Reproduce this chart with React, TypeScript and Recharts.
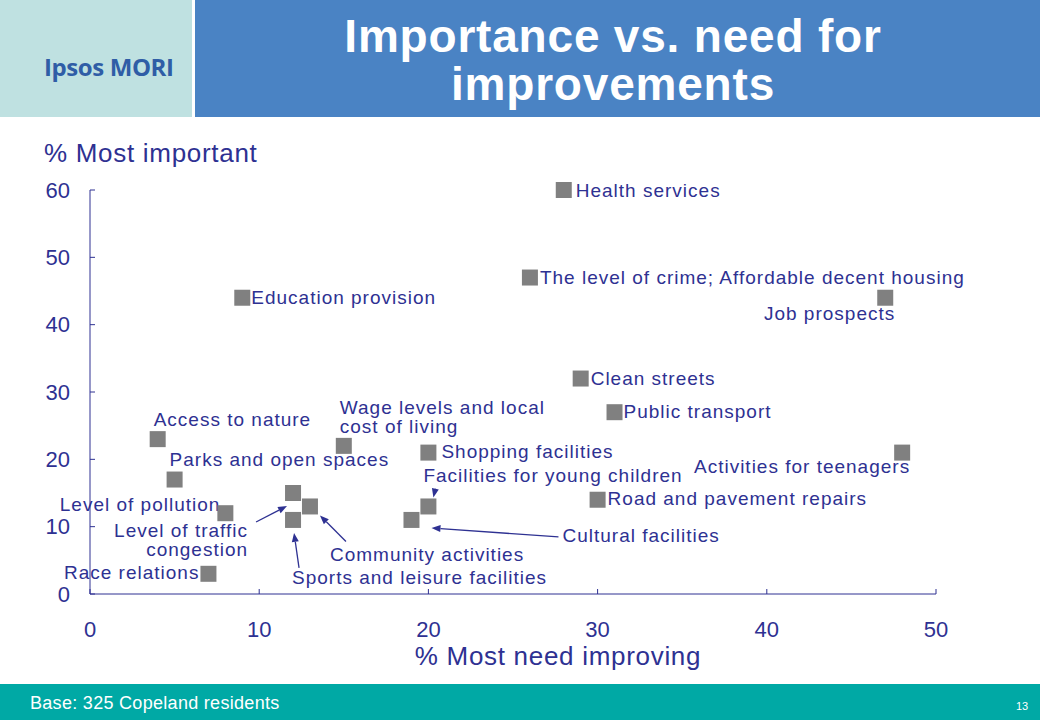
import React from 'react';
import { ScatterChart, Scatter, XAxis, YAxis } from 'recharts';

// ---- Data ----
const services = [
  'Health services',
  'The level of crime; Affordable decent housing',
  'Education provision',
  'Job prospects',
  'Clean streets',
  'Public transport',
  'Access to nature',
  'Wage levels and local\ncost of living',
  'Shopping facilities',
  'Activities for teenagers',
  'Parks and open spaces',
  'Road and pavement repairs',
  'Level of pollution',
  'Level of traffic\ncongestion',
  'Community activities',
  'Facilities for young children',
  'Sports and leisure facilities',
  'Cultural facilities',
  'Race relations',
];
const needImproving = [28, 26, 9, 47, 29, 31, 4, 15, 20, 48, 5, 30, 8, 12, 13, 20, 12, 19, 7];
const mostImportant = [60, 47, 44, 44, 32, 27, 23, 22, 21, 21, 17, 14, 12, 15, 13, 13, 11, 11, 3];
const xTicks = [0, 10, 20, 30, 40, 50];
const yTicks = [0, 10, 20, 30, 40, 50, 60];

// ---- Label placement (pixel offsets relative to each point) ----
type Place = { anchor: 'start' | 'end'; dx: number; dy: number; arrow?: [number, number, number, number] };
const placements: Place[] = [
  { anchor: 'start', dx: 12, dy: 0 },
  { anchor: 'start', dx: 10, dy: 0 },
  { anchor: 'start', dx: 9, dy: 0 },
  { anchor: 'end', dx: 10, dy: 16 },
  { anchor: 'start', dx: 10, dy: 0 },
  { anchor: 'start', dx: 9, dy: -1 },
  { anchor: 'start', dx: -4, dy: -20 },
  { anchor: 'start', dx: -4, dy: -38 },
  { anchor: 'start', dx: 13, dy: -1 },
  { anchor: 'end', dx: 8, dy: 14 },
  { anchor: 'start', dx: -5, dy: -20 },
  { anchor: 'start', dx: 10, dy: -1 },
  { anchor: 'end', dx: -5, dy: -9 },
  { anchor: 'end', dx: -45, dy: 37, arrow: [-37, 29, -6, 13] },
  { anchor: 'start', dx: 20, dy: 48, arrow: [36, 35, 10, 9] },
  { anchor: 'start', dx: -5, dy: -31, arrow: [7, -18, 5, -9] },
  { anchor: 'start', dx: -1, dy: 58, arrow: [6, 48, 1, 13] },
  { anchor: 'start', dx: 151, dy: 16, arrow: [147, 17, 20, 8] },
  { anchor: 'end', dx: -9, dy: -1 },
];

const data = services.map((name, i) => ({ name, x: needImproving[i], y: mostImportant[i], idx: i }));

const NAVY = '#2E3192';
const FONT = '"Liberation Sans", Arial, sans-serif';

const Arrow = ({ x1, y1, x2, y2 }: { x1: number; y1: number; x2: number; y2: number }) => {
  const ang = Math.atan2(y2 - y1, x2 - x1);
  const len = 9;
  const hw = 3.5;
  const bx = x2 - len * Math.cos(ang);
  const by = y2 - len * Math.sin(ang);
  const px = -Math.sin(ang) * hw;
  const py = Math.cos(ang) * hw;
  return (
    <g>
      <line x1={x1} y1={y1} x2={bx} y2={by} stroke={NAVY} strokeWidth={1.3} />
      <polygon points={`${x2},${y2} ${bx + px},${by + py} ${bx - px},${by - py}`} fill={NAVY} />
    </g>
  );
};

const LabelShape = (props: any) => {
  const { cx, cy, payload } = props;
  if (cx == null || cy == null) return null;
  const p = placements[payload.idx];
  const lines = String(payload.name).split('\n');
  return (
    <g>
      {lines.map((ln, k) => (
        <text
          key={k}
          x={cx + p.dx}
          y={cy + p.dy + k * 19}
          textAnchor={p.anchor}
          dominantBaseline="central"
          fill={NAVY}
          fontSize={19}
          fontFamily={FONT}
          letterSpacing={1}
        >
          {ln}
        </text>
      ))}
      {p.arrow && <Arrow x1={cx + p.arrow[0]} y1={cy + p.arrow[1]} x2={cx + p.arrow[2]} y2={cy + p.arrow[3]} />}
    </g>
  );
};

const SquareShape = (props: any) => {
  const { cx, cy } = props;
  if (cx == null || cy == null) return null;
  return <rect x={cx - 8} y={cy - 8} width={16} height={16} fill="#808080" />;
};

const XTick = (props: any) => {
  const { x, y, payload } = props;
  return (
    <g>
      <line x1={x} y1={y} x2={x} y2={y - 5} stroke={NAVY} strokeWidth={1} />
      <text x={x} y={y + 35} textAnchor="middle" dominantBaseline="central" fill={NAVY} fontSize={22} fontFamily={FONT}>
        {payload.value}
      </text>
    </g>
  );
};

const YTick = (props: any) => {
  const { x, y, payload } = props;
  return (
    <g>
      <line x1={x} y1={y} x2={x + 5} y2={y} stroke={NAVY} strokeWidth={1} />
      <text x={x - 20} y={y} textAnchor="end" dominantBaseline="central" fill={NAVY} fontSize={22} fontFamily={FONT}>
        {payload.value}
      </text>
    </g>
  );
};

export default function App() {
  return (
    <div style={{ position: 'absolute', left: 0, top: 0, width: 1040, height: 720, background: '#fff', overflow: 'hidden', fontFamily: FONT }}>
      {/* header */}
      <div style={{ position: 'absolute', left: 0, top: 0, width: 192, height: 117, background: '#BFE1E1' }} />
      <div
        style={{
          position: 'absolute', left: 44, top: 49, fontFamily: '"Open Sans", sans-serif', fontWeight: 700,
          fontSize: 24, letterSpacing: -0.4, color: '#2F5DA6', lineHeight: '36px', whiteSpace: 'nowrap',
        }}
      >
        Ipsos MORI
      </div>
      <div style={{ position: 'absolute', left: 195, top: 0, width: 845, height: 117, background: '#4A83C4' }} />
      <div
        style={{
          position: 'absolute', left: 195, top: 12, width: 836, textAlign: 'center', color: '#fff', fontWeight: 700,
          fontSize: 46, lineHeight: '48px', letterSpacing: 0.8, fontFamily: FONT,
        }}
      >
        Importance vs. need for
        <br />
        improvements
      </div>

      {/* axis titles */}
      <div style={{ position: 'absolute', left: 44, top: 138, color: NAVY, fontSize: 26, letterSpacing: 0.7, lineHeight: '30px', whiteSpace: 'nowrap' }}>
        % Most important
      </div>
      <div style={{ position: 'absolute', left: 300, width: 516, top: 642, textAlign: 'center', color: NAVY, fontSize: 26, letterSpacing: 0.7, lineHeight: '28px' }}>
        % Most need improving
      </div>

      <div style={{ position: 'absolute', left: 0, top: 0 }}>
        <ScatterChart width={1040} height={720} margin={{ top: 190, right: 104, bottom: 86, left: 40 }}>
          <XAxis
            type="number"
            dataKey="x"
            domain={[0, 50]}
            ticks={xTicks}
            interval={0}
            height={40}
            tickSize={0}
            tickMargin={0}
            tickLine={false}
            axisLine={{ stroke: NAVY, strokeWidth: 1 }}
            tick={<XTick />}
          />
          <YAxis
            type="number"
            dataKey="y"
            domain={[0, 60]}
            ticks={yTicks}
            interval={0}
            width={50}
            tickSize={0}
            tickMargin={0}
            tickLine={false}
            axisLine={{ stroke: NAVY, strokeWidth: 1 }}
            tick={<YTick />}
          />
          <Scatter data={data} shape={<LabelShape />} isAnimationActive={false} />
          <Scatter data={data} shape={<SquareShape />} isAnimationActive={false} />
        </ScatterChart>
      </div>

      {/* footer */}
      <div style={{ position: 'absolute', left: 0, top: 684, width: 1040, height: 36, background: '#00A9A5' }} />
      <div style={{ position: 'absolute', left: 30, top: 691, color: '#fff', fontSize: 18, letterSpacing: 0.3, lineHeight: '24px', whiteSpace: 'nowrap' }}>
        Base: 325 Copeland residents
      </div>
      <div style={{ position: 'absolute', left: 1016, top: 699, color: '#fff', fontSize: 11, lineHeight: '14px' }}>13</div>
    </div>
  );
}
